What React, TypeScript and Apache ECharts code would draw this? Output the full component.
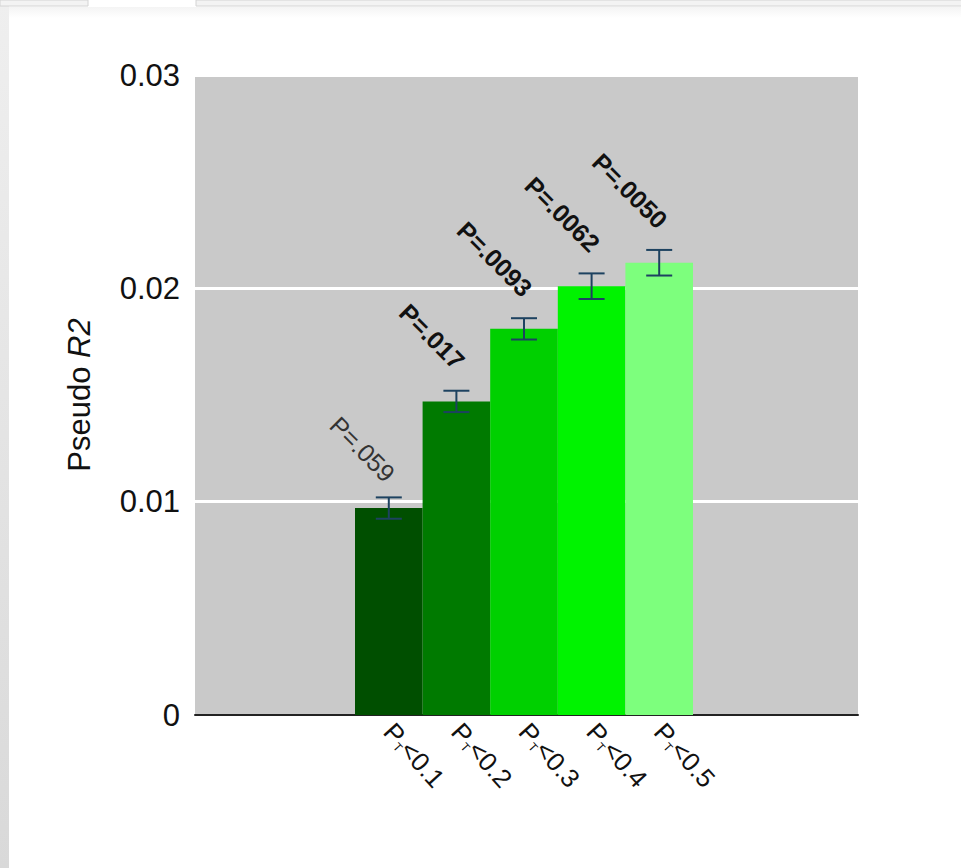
import React, { useEffect, useRef } from "react";
import * as echarts from "echarts";

// Significance thresholds (x axis), shown as "P_T<x"
const thresholds = ["0.1", "0.2", "0.3", "0.4", "0.5"];
// Mean pseudo R2 per threshold and its standard error
const pseudoR2 = [0.0097, 0.0147, 0.0181, 0.0201, 0.0212];
const stdErr = [0.0005, 0.0005, 0.0005, 0.0006, 0.0006];
// P-values printed above each bar
const pLabels = ["P=.059", "P=.017", "P=.0093", "P=.0062", "P=.0050"];
const pBold = [false, true, true, true, true];
// Y axis ticks
const yMin = 0;
const yMax = 0.03;
const yStep = 0.01;

const barColors = ["#004f00", "#007a00", "#00d000", "#00f300", "#7dff7d"];
const errColor = "#1d4260";
const FONT = "'Liberation Sans', Arial, Helvetica, sans-serif";

export default function App() {
  const ref = useRef<HTMLDivElement>(null);

  useEffect(() => {
    if (!ref.current) return;
    const chart = echarts.init(ref.current, undefined, { renderer: "svg" });

    const option: any = {
      animation: false,
      backgroundColor: "#ffffff",
      textStyle: { fontFamily: FONT },
      graphic: [
        // window chrome around the figure
        {
          type: "rect",
          shape: { x: 0, y: 0, width: 9, height: 868 },
          style: {
            fill: new echarts.graphic.LinearGradient(0, 0, 0, 1, [
              { offset: 0, color: "#efefef" },
              { offset: 1, color: "#d9d9d9" },
            ]),
          },
          silent: true,
        },
        {
          type: "rect",
          shape: { x: 0, y: 0, width: 88, height: 6 },
          style: { fill: "#f3f3f3", stroke: "#d4d4d4", lineWidth: 1 },
          silent: true,
        },
        {
          type: "rect",
          shape: { x: 196, y: 0, width: 770, height: 6 },
          style: { fill: "#f3f3f3", stroke: "#d4d4d4", lineWidth: 1 },
          silent: true,
        },
        {
          type: "rect",
          shape: { x: 9, y: 7, width: 952, height: 11 },
          style: {
            fill: new echarts.graphic.LinearGradient(0, 0, 0, 1, [
              { offset: 0, color: "#f4f4f4" },
              { offset: 1, color: "#ffffff" },
            ]),
          },
          silent: true,
        },
      ],
      grid: [
        {
          left: 195,
          top: 75,
          width: 663,
          height: 640,
          show: true,
          backgroundColor: "#c9c9c9",
          borderWidth: 0,
        },
        { left: 355, top: 75, width: 338, height: 640 },
      ],
      xAxis: [
        {
          gridIndex: 0,
          type: "value",
          min: 0,
          max: 1,
          axisLine: { show: true, lineStyle: { color: "#222", width: 2 } },
          axisTick: { show: false },
          axisLabel: { show: false },
          splitLine: { show: false },
        },
        {
          gridIndex: 1,
          type: "category",
          data: thresholds,
          axisLine: { show: false },
          axisTick: { show: false },
          axisLabel: {
            rotate: -48,
            margin: 12,
            formatter: (v: string) => `{p|P}{t|T}{p|<${v}}`,
            rich: {
              p: { fontSize: 26, color: "#111", fontFamily: FONT },
              t: { fontSize: 12, color: "#111", fontFamily: FONT, padding: [14, 0, 0, 0] },
            },
          },
        },
      ],
      yAxis: [
        {
          gridIndex: 0,
          type: "value",
          min: yMin,
          max: yMax,
          interval: yStep,
          name: "{n|Pseudo }{i|R2}",
          nameLocation: "middle",
          nameGap: 100,
          nameRotate: 90,
          nameTextStyle: {
            rich: {
              n: { fontSize: 31, color: "#111", fontFamily: FONT },
              i: { fontSize: 31, color: "#111", fontFamily: FONT, fontStyle: "italic" },
            },
          },
          axisLine: { show: false },
          axisTick: { show: false },
          axisLabel: {
            fontSize: 31,
            color: "#111",
            margin: 15,
            formatter: (v: number) => (v === 0 ? "0" : v.toFixed(2)),
          },
          splitLine: { show: true, lineStyle: { color: "#ffffff", width: 3 } },
        },
        {
          gridIndex: 1,
          type: "value",
          min: yMin,
          max: yMax,
          show: false,
          splitLine: { show: false },
        },
      ],
      series: [
        {
          type: "bar",
          xAxisIndex: 1,
          yAxisIndex: 1,
          barWidth: "100%",
          barCategoryGap: "0%",
          data: pseudoR2.map((v, i) => ({ value: v, itemStyle: { color: barColors[i] } })),
        },
        {
          type: "custom",
          xAxisIndex: 1,
          yAxisIndex: 1,
          z: 5,
          data: pseudoR2.map((v, i) => [i, v, stdErr[i]]),
          renderItem: (params: any, api: any) => {
            const i = api.value(0);
            const v = api.value(1);
            const e = api.value(2);
            const top = api.coord([i, v + e]);
            const bot = api.coord([i, v - e]);
            const cx = top[0];
            const hw = 13;
            const st = { stroke: errColor, lineWidth: 2 };
            const idx = params.dataIndex;
            const bold = pBold[idx];
            return {
              type: "group",
              children: [
                { type: "line", shape: { x1: cx, y1: top[1], x2: cx, y2: bot[1] }, style: st },
                { type: "line", shape: { x1: cx - hw, y1: top[1], x2: cx + hw, y2: top[1] }, style: st },
                { type: "line", shape: { x1: cx - hw, y1: bot[1], x2: cx + hw, y2: bot[1] }, style: st },
                {
                  type: "text",
                  x: cx + (bold ? 4 : 2),
                  y: top[1] - (bold ? 26 : 20),
                  rotation: -Math.PI / 4,
                  style: {
                    text: pLabels[idx],
                    align: "right",
                    verticalAlign: "middle",
                    fontSize: bold ? 25 : 25,
                    fontFamily: FONT,
                    fontWeight: bold ? "bold" : "normal",
                    fill: bold ? "#111" : "#333",
                  },
                },
              ],
            };
          },
        },
      ],
    };

    chart.setOption(option);
    return () => chart.dispose();
  }, []);

  return (
    <div
      ref={ref}
      style={{ position: "fixed", left: 0, top: 0, width: 961, height: 868 }}
    />
  );
}
